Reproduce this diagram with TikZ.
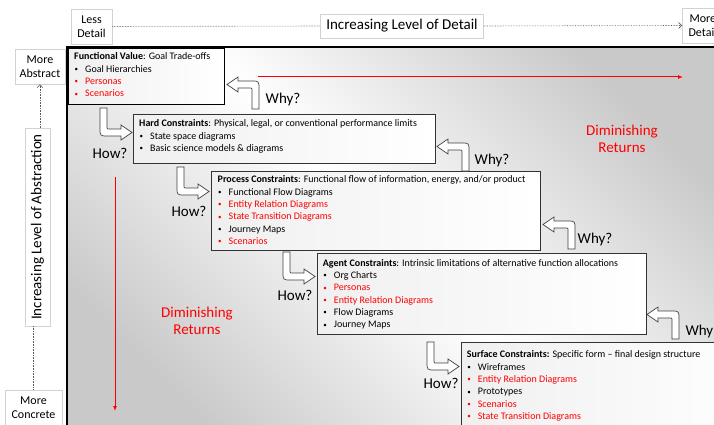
\documentclass[tikz,border=0pt]{standalone}
\usepackage{fontspec}
\setmainfont{Carlito}
\usetikzlibrary{arrows.meta}

\newcommand{\itm}[1]{\makebox[11pt][l]{\hspace{0.5pt}\raisebox{0.6pt}{\fontsize{7}{7}\selectfont\textbullet}}#1}
\newcommand{\ritm}[1]{\textcolor{red}{\itm{#1}}}

\tikzset{
  lvlbox/.style={draw=black!80, line width=0.8pt, left color=gray!12, right color=white, anchor=north west},
  lvltext/.style={anchor=north west, inner sep=0pt, align=left, font=\fontsize{10}{12.3}\selectfont},
  axisbox/.style={draw=gray!35, fill=white, line width=0.6pt, align=center, inner sep=3pt, font=\fontsize{12}{14}\selectfont},
  axisline/.style={densely dotted, gray!70!black, line width=0.6pt},
  bigword/.style={font=\fontsize{15}{17}\selectfont},
  dimret/.style={red, align=center, font=\fontsize{15}{17.5}\selectfont},
  redarrow/.style={draw=red, line width=1pt, -{Latex[length=5pt,width=4pt,fill=red]}},
  pics/turnarrow/.style={code={
    \draw[draw=black!75, fill=white, line width=0.7pt]
      (0,0) -- (0,20) .. controls (0,28) .. (8,28) -- (21,28) -- (21,32)
      -- (32,24.5) -- (21,17) -- (21,21) -- (9,21) .. controls (7,21) .. (7,19)
      -- (7,0) -- cycle;
  }}
}

\begin{document}
\begin{tikzpicture}[x=1pt,y=-1pt]
\useasboundingbox (0,0) rectangle (714,425);
\clip (0,0) rectangle (714,425);

% axis of detail
\node[axisbox, minimum width=41, minimum height=35] (less) at (91.5,26.5) {Less\\Detail};
\node[axisbox, bigword, inner xsep=6pt, minimum height=24] (detail) at (402,26) {Increasing Level of Detail};
\node[axisbox, minimum width=41, minimum height=35, anchor=west] (moredet) at (682,25.5) {More\\Detail};
\draw[axisline] (less.east) -- (detail.west);
\draw[axisline, -{Straight Barb[length=3pt,width=6pt]}] (detail.east) -- (moredet.west);

% axis of abstraction
\node[axisbox, minimum width=50, minimum height=35] (abstr) at (40,66.5) {More\\Abstract};
\node[axisbox, bigword, rotate=90, inner xsep=6pt, minimum height=25] (abslvl) at (37.5,227) {Increasing Level of Abstraction};
\node[axisbox, minimum width=57, minimum height=35, anchor=north] (concr) at (33.5,390) {More\\Concrete};
\draw[axisline, -{Straight Barb[length=3pt,width=6pt]}] (abstr.south |- abslvl.east) -- (abstr.south);
\draw[axisline] (concr.north |- abslvl.west) -- (concr.north);

% frame with shaded background
\shade[top color=gray!42, bottom color=gray!42, middle color=white, shading angle=-45] (67,47) rectangle (730,440);
\draw[line width=2.5pt] (67,440) -- (67,47) -- (730,47);

% diminishing returns
\coordinate (rh0) at (258,77);
\coordinate (rh1) at (683,77);
\draw[redarrow] (rh0) -- (rh1);
\coordinate (rv0) at (115,177);
\coordinate (rv1) at (115,411);
\draw[redarrow] (rv0) -- (rv1);
\node[dimret] (dimr) at (622,139) {Diminishing\\Returns};
\node[dimret] (diml) at (197,321) {Diminishing\\Returns};

% levels
\node[lvlbox, draw=black, minimum width=156, minimum height=56] (fv) at (68,48) {};
\node[lvltext] (fvt) at (74,52.7) {\textbf{Functional Value}: Goal Trade-offs\\
  \itm{Goal Hierarchies}\\ \ritm{Personas}\\ \ritm{Scenarios}};

\node[lvlbox, minimum width=302, minimum height=49] (hard) at (133,114) {};
\node[lvltext] (hardt) at (139,119.7) {\textbf{Hard Constraints}: Physical, legal, or conventional performance limits\\
  \itm{State space diagrams}\\ \itm{Basic science models \& diagrams}};

\node[lvlbox, minimum width=329, minimum height=79] (proc) at (211,171) {};
\node[lvltext] (proct) at (217.5,175.7) {\textbf{Process Constraints}: Functional flow of information, energy, and/or product\\
  \itm{Functional Flow Diagrams}\\ \ritm{Entity Relation Diagrams}\\ \ritm{State Transition Diagrams}\\
  \itm{Journey Maps}\\ \ritm{Scenarios}};

\node[lvlbox, minimum width=329, minimum height=81] (agent) at (317,253) {};
\node[lvltext] (agentt) at (322.7,259) {\textbf{Agent Constraints}: Intrinsic limitations of alternative function allocations\\
  \itm{Org Charts}\\ \ritm{Personas}\\ \ritm{Entity Relation Diagrams}\\ \itm{Flow Diagrams}\\ \itm{Journey Maps}};

\node[lvlbox, minimum width=300, minimum height=100] (surf) at (461,342) {};
\node[lvltext] (surft) at (466.7,350.7) {\textbf{Surface Constraints:} Specific form -- final design structure\\
  \itm{Wireframes}\\ \ritm{Entity Relation Diagrams}\\ \itm{Prototypes}\\ \ritm{Scenarios}\\ \ritm{State Transition Diagrams}};

% how? arrows
\pic (how1) at (100,108) {turnarrow};
\pic (how2) at (177,167) {turnarrow};
\pic (how3) at (283,252) {turnarrow};
\pic (how4) at (427,342) {turnarrow};
\node[bigword, anchor=base] (howa) at (110,158) {How?};
\node[bigword, anchor=base] (howb) at (189,216) {How?};
\node[bigword, anchor=base] (howc) at (295,300) {How?};
\node[bigword, anchor=base] (howd) at (441,388) {How?};

% why? arrows
\pic[rotate=180] (why1) at (259,109) {turnarrow};
\pic[rotate=180] (why2) at (469,171) {turnarrow};
\pic[rotate=180] (why3) at (575,249) {turnarrow};
\pic[rotate=180] (why4) at (679,339) {turnarrow};
\node[bigword, anchor=base] (whya) at (283,103) {Why?};
\node[bigword, anchor=base] (whyb) at (492,164) {Why?};
\node[bigword, anchor=base] (whyc) at (595,243) {Why?};
\node[bigword, anchor=base west] (whyd) at (682,335) {Why?};

\end{tikzpicture}
\end{document}
